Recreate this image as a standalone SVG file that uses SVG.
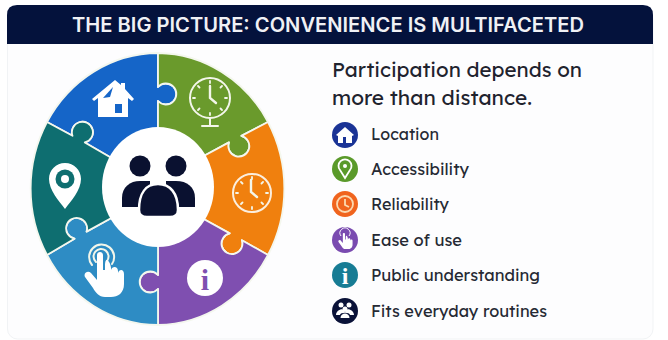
<svg xmlns="http://www.w3.org/2000/svg" width="668" height="340" viewBox="0 0 668 340">
<defs>
<style>
.p{stroke:#f4f7ee;stroke-width:1.8;stroke-linejoin:round}
.w{fill:#fff}
.ln{fill:none;stroke:#f3f6ea;stroke-linecap:round}
.d{fill:#0a1130}
.t{font-family:"Lexend","Noto Sans","Open Sans",sans-serif;fill:#262a34}
.l{font-size:16.5px}
.h{font-family:"Inter","Liberation Sans",sans-serif;font-weight:600;font-size:20px;fill:#f0f1f5}
.s{font-size:21px;fill:#1f232e}
</style>
<g id="handshape">
<path d="M-6 0C-6-4 0-4 0 0V15L2 15V11C2-1 8 8 8 13V15C9 11 15 11 15 16V18C16 14 21 14 21 19V29C21 38 15 42 8 42H2C-4 42-8 37-10 33L-18 22C-20 18-15 15-12 18L-6 25Z"/>
</g>
</defs>
<rect width="668" height="340" fill="#fff"/>
<rect id="card" x="7.5" y="10" width="645.5" height="329" rx="10" fill="#fdfdfe" stroke="#f1f3f5"/>
<g id="header">
<path d="M7 44V15Q7 5 17 5H643Q653 5 653 15V44Z" fill="#04123c"/>
<text class="h" x="328" y="32" text-anchor="middle" textLength="512" lengthAdjust="spacingAndGlyphs">THE BIG PICTURE: CONVENIENCE IS MULTIFACETED</text>
</g>
<g id="wheel">
<path id="seg-blue" class="p" fill="#1565c8" d="M47 122A128 136 0 0 1 158 53L158 87A10.500 10.500 0 1 1 158 101L158 135L158 187L115 160L84.800 142.500A10.500 10.500 0 1 0 72.500 135.800Z"/>
<path id="seg-green" class="p" fill="#6a9a2c" d="M158 53A128 136 0 0 1 268 122L241.400 135.900A10.500 10.500 0 1 1 229 142.400L200 158L158 187L158 101A10.500 10.500 0 1 0 158 87Z"/>
<path id="seg-orange" class="p" fill="#f0800e" d="M268 122A128 136 0 0 1 268 255L241.900 240.200A10.500 10.500 0 1 1 229.700 233.400L200 217L158 187L200 158L229 142.400A10.500 10.500 0 1 0 241.400 135.900Z"/>
<path id="seg-purple" class="p" fill="#7f4fb0" d="M268 255A128 136 0 0 1 158 325L158 289A10.500 10.500 0 1 1 158 275L158 187L200 217L229.700 233.400A10.500 10.500 0 1 0 241.900 240.200Z"/>
<path id="seg-sky" class="p" fill="#2e8cc4" d="M158 325A128 136 0 0 1 47 255L74.500 238.700A10.500 10.500 0 1 1 86.600 231.600L115 216L158 187L158 275A10.500 10.500 0 1 0 158 289Z"/>
<path id="seg-teal" class="p" fill="#0e6e70" d="M47 255A128 136 0 0 1 47 122L72.500 135.800A10.500 10.500 0 1 1 84.800 142.500L115 160L158 187L115 216L86.600 231.600A10.500 10.500 0 1 0 74.500 238.700Z"/>
<ellipse id="hub" cx="158" cy="187" rx="56" ry="60" fill="#fff"/>
</g>
<g id="people">
<circle class="d" cx="140" cy="166" r="10.500"/><circle class="d" cx="176" cy="166" r="10.500"/>
<path class="d" d="M122 207V198C122 187 130 181 140 181H150V207Z"/>
<path class="d" d="M195 207V198C195 187 187 181 176 181H166V207Z"/>
<path class="d" stroke="#fff" stroke-width="2.500" d="M139 210C139 193 146 184 158 184C170 184 178 193 178 210C178 214 175 217 170 217H147C142 217 139 214 139 210Z"/>
</g>
<g id="icon-house">
<path class="w" d="M92 99L115 80L121 85V83H125V89L134 99L132 101L128 98V117H98V98L94 101Z"/>
<path d="M103 98L113 87L110 97Z" fill="#1565c8"/>
<rect x="115" y="104" width="7" height="9" fill="#1565c8"/>
</g>
<g id="icon-clock-stand">
<circle class="ln" cx="210" cy="98" r="20" stroke-width="2"/>
<path class="ln" stroke-width="2.400" d="M210 86V98L216 103"/>
<path class="ln" stroke-width="1.800" d="M210 81V83M210 113V115M193 98H195M225 98H227M198 86L199.500 87.500M222 86L220.500 87.500M198 110L199.500 108.500M222 110L220.500 108.500"/>
<path class="ln" stroke-width="2" d="M210 118V125M202 126H218"/>
</g>
<g id="icon-clock">
<circle cx="252" cy="193" r="19" fill="#f0800e" stroke="#fbeede" stroke-width="2"/>
<path class="ln" stroke-width="2.400" d="M251 180V192L257 197"/>
<path class="ln" stroke-width="1.800" d="M252 177V179M252 207V209M236 193H238M266 193H268M241 182L242.500 183.500M263 182L261.500 183.500M241 204L242.500 202.500M263 204L261.500 202.500"/>
</g>
<g id="icon-info">
<circle class="w" cx="205" cy="278" r="18"/>
<text x="205" y="290" text-anchor="middle" font-family="Liberation Serif,serif" font-weight="700" font-size="30" fill="#7f4fb0">i</text>
</g>
<g id="icon-pin">
<path class="w" d="M65 163C74 163 81 170 81 179C81 190 71 201 65 209C59 201 49 190 49 179C49 170 56 163 65 163Z"/>
<circle cx="65" cy="179" r="9.500" fill="#0e6e70"/><circle class="w" cx="65" cy="179" r="4"/>
</g>
<g id="icon-hand">
<path class="ln" stroke-width="2" d="M92 265A12.500 12.500 0 1 1 112 264M96 262A7.500 7.500 0 1 1 107 261"/>
<use href="#handshape" x="103" y="255" fill="#fff"/>
</g>
<g id="title">
<text class="t s" x="332" y="77" textLength="250" lengthAdjust="spacingAndGlyphs">Participation depends on</text>
<text class="t s" x="332" y="105" textLength="200" lengthAdjust="spacingAndGlyphs">more than distance.</text>
</g>
<g id="legend-location">
<circle cx="345" cy="135" r="13" fill="#1a3396"/>
<path class="w" d="M336 135L345 127L354 135L352 136V143H338V136Z"/><rect x="343" y="137" width="3" height="6" fill="#1a3396"/>
<text class="t l" x="371" y="140" textLength="68" lengthAdjust="spacingAndGlyphs">Location</text>
</g>
<g id="legend-accessibility">
<circle cx="345" cy="169" r="13" fill="#5a9a2a"/>
<path fill="none" stroke="#fff" stroke-width="1.800" d="M345 178L340 170A6.500 6.500 0 1 1 350 170Z"/><circle cx="345" cy="166" r="2" fill="#fff"/>
<text class="t l" x="371" y="175" textLength="98" lengthAdjust="spacingAndGlyphs">Accessibility</text>
</g>
<g id="legend-reliability">
<circle cx="345" cy="204" r="13" fill="#f0641e"/>
<circle cx="345" cy="204" r="8" fill="none" stroke="#fbd9b0" stroke-width="1.800"/>
<path fill="none" stroke="#fbd9b0" stroke-width="1.800" d="M345 199V205L349 207"/>
<text class="t l" x="371" y="210" textLength="78" lengthAdjust="spacingAndGlyphs">Reliability</text>
</g>
<g id="legend-ease">
<circle cx="345" cy="240" r="13" fill="#7a4bb0"/>
<use href="#handshape" transform="translate(345 234) scale(.36)" fill="#fff"/>
<path fill="none" stroke="#fff" stroke-width="1" d="M341 236A5 5 0 1 1 349 236"/>
<text class="t l" x="371" y="246" textLength="91" lengthAdjust="spacingAndGlyphs">Ease of use</text>
</g>
<g id="legend-understanding">
<circle cx="345" cy="275" r="13" fill="#177c94"/>
<text x="345" y="284" text-anchor="middle" font-family="Liberation Serif,serif" font-weight="700" font-size="24" fill="#fff">i</text>
<text class="t l" x="371" y="281" textLength="169" lengthAdjust="spacingAndGlyphs">Public understanding</text>
</g>
<g id="legend-routines">
<circle cx="345" cy="311" r="13" fill="#0a1238"/>
<circle class="w" cx="341" cy="305" r="2.500"/><circle class="w" cx="349" cy="305" r="2.500"/><circle class="w" cx="345" cy="309" r="2.500"/>
<path class="w" d="M336 315C336 309 345 307 345 312C345 307 354 309 354 315H350C350 312 340 312 340 315Z"/>
<path class="w" d="M340.500 318C340.500 312 349.500 312 349.500 318Z"/>
<text class="t l" x="371" y="317" textLength="176" lengthAdjust="spacingAndGlyphs">Fits everyday routines</text>
</g>
</svg>
